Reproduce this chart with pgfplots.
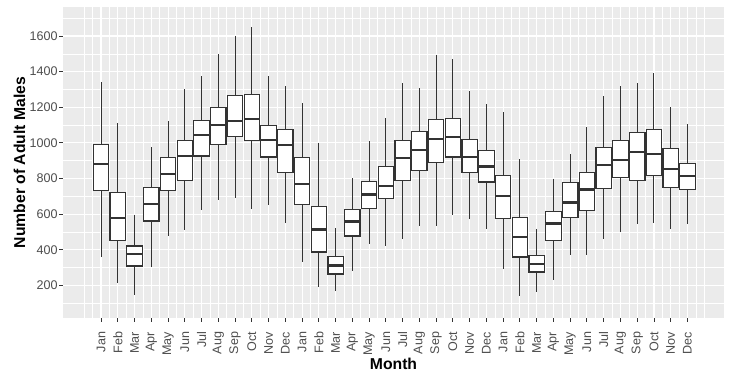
\documentclass[border=0pt]{standalone}
\usepackage{pgfplots}
\pgfplotsset{compat=1.18}
\usepgfplotslibrary{statistics}
\usepackage{fontspec}
\setmainfont{Liberation Sans}
\definecolor{panelgrey}{HTML}{EBEBEB}
\definecolor{ticktext}{HTML}{4D4D4D}
\definecolor{tickline}{HTML}{333333}

% one box: position, lower whisker, lower quartile, median, upper quartile, upper whisker
\newcommand{\bx}[6]{%
  \addplot[draw=tickline, fill=white, line width=1bp,
    boxplot prepared={draw position=#1, lower whisker=#2, lower quartile=#3,
      median=#4, upper quartile=#5, upper whisker=#6,
      box extend=0.92, whisker extend=0,
      every box/.style={line width=1.2bp},
      every median/.style={line width=2.2bp}}]
    coordinates {};}

\begin{document}
\begin{tikzpicture}
\begin{axis}[
  boxplot/draw direction=y,
  scale only axis, width=661bp, height=311bp,
  xmin=-1.27, xmax=38.18, ymin=17, ymax=1763,
  axis background/.style={fill=panelgrey},
  axis line style={draw=none},
  tick pos=left, tick align=outside,
  major tick length=3.7bp, minor tick length=0pt,
  tick style={tickline, line width=0.9bp},
  xtick={1,...,36},
  xticklabels={Jan,Feb,Mar,Apr,May,Jun,Jul,Aug,Sep,Oct,Nov,Dec,
               Jan,Feb,Mar,Apr,May,Jun,Jul,Aug,Sep,Oct,Nov,Dec,
               Jan,Feb,Mar,Apr,May,Jun,Jul,Aug,Sep,Oct,Nov,Dec},
  extra x ticks={0,37}, extra x tick labels={},
  extra x tick style={major tick length=0pt},
  minor xtick={0.5,1.5,...,36.5},
  ytick={200,400,...,1600},
  minor ytick={100,300,...,1700},
  grid=both,
  major grid style={white, line width=1.1bp},
  minor grid style={white, line width=0.55bp},
  xticklabel style={rotate=90, anchor=east, font=\fontsize{12.6}{14}\selectfont, text=ticktext, inner sep=0bp, xshift=-10bp},
  yticklabel style={font=\fontsize{12.6}{14}\selectfont, text=ticktext, inner sep=1.5bp},
  /pgf/number format/assume math mode=true,
  /pgf/number format/1000 sep={},
  xlabel={\textbf{Month}},
  ylabel={\textbf{Number of Adult Males}},
  label style={font=\fontsize{15.8}{17}\selectfont},
  xlabel style={yshift=5bp},
  ylabel style={yshift=-0.5bp},
]
\bx{1}{357}{734}{883}{992}{1343}
\bx{2}{211}{450}{579}{723}{1109}
\bx{3}{144}{309}{376}{421}{596}
\bx{4}{301}{562}{659}{749}{977}
\bx{5}{475}{734}{827}{919}{1122}
\bx{6}{510}{790}{925}{1012}{1302}
\bx{7}{626}{926}{1046}{1126}{1378}
\bx{8}{682}{992}{1100}{1199}{1499}
\bx{9}{693}{1038}{1122}{1264}{1600}
\bx{10}{630}{1014}{1132}{1270}{1649}
\bx{11}{654}{921}{1018}{1096}{1374}
\bx{12}{553}{835}{990}{1076}{1318}
\bx{13}{329}{656}{771}{919}{1223}
\bx{14}{191}{387}{514}{643}{999}
\bx{15}{167}{264}{312}{363}{523}
\bx{16}{279}{477}{559}{628}{803}
\bx{17}{430}{633}{710}{785}{1010}
\bx{18}{424}{689}{760}{869}{1141}
\bx{19}{463}{790}{917}{1014}{1335}
\bx{20}{531}{846}{960}{1065}{1307}
\bx{21}{536}{891}{1023}{1132}{1492}
\bx{22}{598}{921}{1035}{1137}{1470}
\bx{23}{570}{835}{923}{1020}{1290}
\bx{24}{519}{781}{867}{958}{1218}
\bx{25}{292}{577}{704}{818}{1173}
\bx{26}{141}{359}{473}{583}{908}
\bx{27}{161}{275}{318}{370}{518}
\bx{28}{228}{450}{547}{617}{796}
\bx{29}{368}{583}{665}{779}{938}
\bx{30}{368}{622}{738}{835}{1089}
\bx{31}{458}{745}{878}{975}{1261}
\bx{32}{499}{807}{904}{1014}{1322}
\bx{33}{542}{790}{949}{1059}{1335}
\bx{34}{553}{818}{938}{1076}{1391}
\bx{35}{514}{751}{854}{969}{1201}
\bx{36}{547}{740}{816}{885}{1104}
\end{axis}
\pgfresetboundingbox
\path (current axis.south west) ++(-63bp,-62bp) coordinate (bl);
\path (current axis.north east) ++(8bp,7bp) coordinate (tr);
\path[use as bounding box] (bl) rectangle (tr);
\end{tikzpicture}
\end{document}
